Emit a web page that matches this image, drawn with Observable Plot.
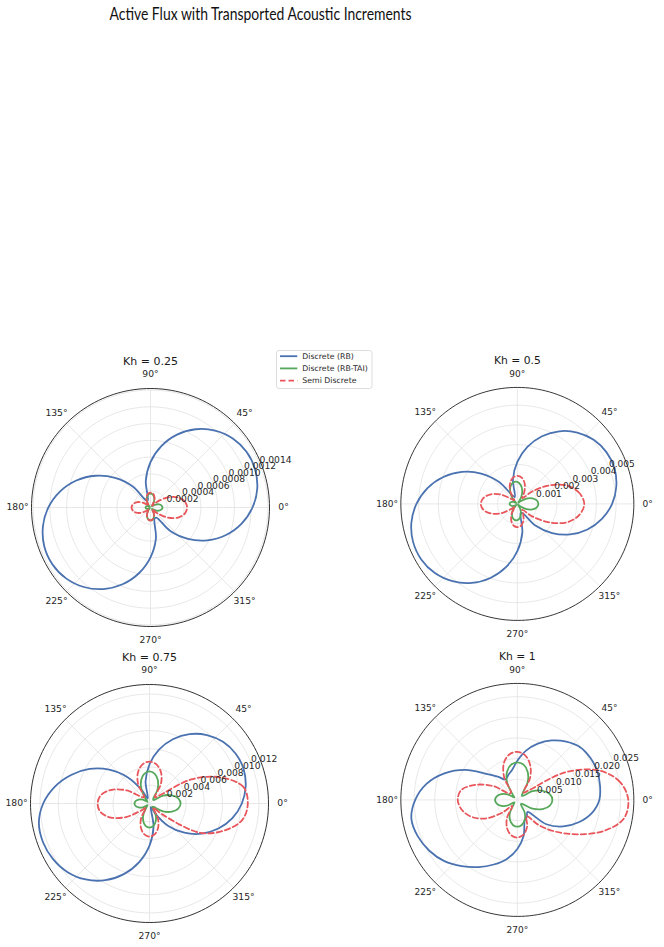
<!DOCTYPE html>
<html>
<head>
<meta charset="utf-8">
<script src="https://cdn.jsdelivr.net/npm/d3@7"></script>
<script src="https://cdn.jsdelivr.net/npm/@observablehq/plot@0.6"></script>
<style>
  html, body { margin: 0; padding: 0; background: #fff; }
  #fig { position: relative; width: 664px; height: 947px; overflow: hidden; background: #fff; }
  .panel { position: absolute; }
  .panel svg { overflow: visible; }
</style>
</head>
<body>
<div id="fig"></div>
<script>
// Polar angle (degrees) shared by every series
const angles = [0,10,20,30,40,50,60,70,80,90,100,110,120,130,140,150,160,170,180,190,200,210,220,230,240,250,260,270,280,290,300,310,320,330,340,350];

const seriesNames = ["Discrete (RB)", "Discrete (RB-TAI)", "Semi Discrete"];
const khLabels = ["0.25", "0.5", "0.75", "1"];

// Kh = 0.25
const rb_025 = [0.001216,0.001292,0.001327,0.001324,0.001280,0.001197,0.001077,0.000925,0.000744,0.000542,0.000322,0.000093,0.000095,0.000328,0.000551,0.000757,0.000941,0.001096,0.001218,0.001302,0.001348,0.001351,0.001314,0.001237,0.001123,0.000974,0.000796,0.000594,0.000373,0.000141,0.000139,0.000367,0.000583,0.000782,0.000958,0.001103];
const tai_025 = [0.000143,0.000134,0.000109,0.0000713,0.000025,0.0000285,0.0000832,0.000127,0.000157,0.000166,0.000157,0.000127,0.0000832,0.0000285,0.0000107,0.0000297,0.0000452,0.0000559,0.0000594,0.0000559,0.0000452,0.0000297,0.0000107,0.0000273,0.0000772,0.000119,0.000145,0.000154,0.000145,0.000119,0.0000772,0.0000273,0.000025,0.0000713,0.000109,0.000134];
const semi_025 = [0.000436,0.000415,0.000349,0.000240,0.000109,0.0000309,0.0000891,0.000137,0.000168,0.000178,0.000168,0.000137,0.0000891,0.0000309,0.0000564,0.000125,0.000181,0.000214,0.000226,0.000214,0.000181,0.000125,0.0000564,0.0000273,0.0000772,0.000119,0.000145,0.000154,0.000145,0.000119,0.0000772,0.0000273,0.000109,0.000240,0.000349,0.000415];
const ticks_025 = [0.0002,0.0004,0.0006,0.0008,0.0010,0.0012,0.0014];
const tickLabels_025 = ["0.0002","0.0004","0.0006","0.0008","0.0010","0.0012","0.0014"];

// Kh = 0.5
const rb_05 = [0.00480,0.00509,0.00524,0.00522,0.00505,0.00472,0.00425,0.00365,0.00293,0.00213,0.00127,0.00037,0.00049,0.00146,0.00239,0.00324,0.00399,0.00462,0.00511,0.00545,0.00562,0.00562,0.00545,0.00511,0.00462,0.00399,0.00324,0.00239,0.00146,0.00049,0.00055,0.00145,0.00230,0.00309,0.00378,0.00435];
const tai_05 = [0.001065,0.001001,0.000815,0.000535,0.000187,0.0000736,0.000388,0.000726,0.000977,0.001114,0.001114,0.000977,0.000726,0.000388,0.0000687,0.000196,0.000299,0.000368,0.000393,0.000368,0.000299,0.000196,0.0000687,0.000285,0.000535,0.000721,0.000820,0.000820,0.000721,0.000535,0.000285,0.0000491,0.000187,0.000535,0.000815,0.001001];
const semi_05 = [0.00339,0.00319,0.00270,0.00187,0.00098,0.00039,0.00071,0.00109,0.00134,0.00142,0.00134,0.00109,0.00071,0.00025,0.00039,0.00093,0.00142,0.00174,0.00185,0.00174,0.00142,0.00093,0.00039,0.00021,0.00059,0.00090,0.00111,0.00118,0.00111,0.00090,0.00059,0.00039,0.00098,0.00187,0.00270,0.00319];
const ticks_05 = [0.001,0.002,0.003,0.004,0.005];
const tickLabels_05 = ["0.001","0.002","0.003","0.004","0.005"];

// Kh = 0.75
const rb_075 = [0.01013,0.01071,0.01099,0.01092,0.01052,0.00980,0.00879,0.00750,0.00600,0.00430,0.00248,0.00057,0.00172,0.00381,0.00579,0.00759,0.00915,0.01056,0.01166,0.01232,0.01243,0.01221,0.01172,0.01088,0.00971,0.00824,0.00652,0.00462,0.00256,0.00043,0.00134,0.00321,0.00499,0.00662,0.00804,0.00923];
const tai_075 = [0.00341,0.00320,0.00261,0.00171,0.00059,0.00062,0.00176,0.00270,0.00331,0.00352,0.00331,0.00270,0.00176,0.00062,0.00029,0.00083,0.00127,0.00155,0.00165,0.00155,0.00127,0.00083,0.00029,0.00046,0.00132,0.00202,0.00249,0.00264,0.00249,0.00202,0.00132,0.00046,0.00059,0.00171,0.00261,0.00320];
const semi_075 = [0.01078,0.01045,0.00836,0.00528,0.00132,0.00091,0.00252,0.00367,0.00436,0.00459,0.00436,0.00367,0.00252,0.00091,0.00110,0.00286,0.00440,0.00539,0.00569,0.00545,0.00451,0.00297,0.00121,0.00063,0.00182,0.00278,0.00341,0.00363,0.00341,0.00278,0.00182,0.00063,0.00198,0.00644,0.00869,0.01034];
const ticks_075 = [0.002,0.004,0.006,0.008,0.010,0.012];
const tickLabels_075 = ["0.002","0.004","0.006","0.008","0.010","0.012"];

// Kh = 1
const rb_1 = [0.01986,0.02033,0.02057,0.02040,0.01986,0.01843,0.01665,0.01451,0.01213,0.00951,0.00737,0.00642,0.00571,0.00737,0.00985,0.01451,0.01879,0.02235,0.02473,0.02606,0.02568,0.02461,0.02307,0.02093,0.01879,0.01665,0.01451,0.01189,0.00880,0.00523,0.00464,0.00380,0.00918,0.01284,0.01581,0.01831];
const tai_1 = [0.00849,0.00799,0.00649,0.00426,0.00147,0.00183,0.00502,0.00728,0.00866,0.00911,0.00866,0.00728,0.00502,0.00183,0.00095,0.00271,0.00414,0.00507,0.00540,0.00507,0.00414,0.00271,0.00095,0.00131,0.00357,0.00518,0.00616,0.00649,0.00616,0.00518,0.00357,0.00131,0.00147,0.00426,0.00649,0.00799];
const semi_1 = [0.02687,0.02521,0.02093,0.01332,0.00357,0.00233,0.00618,0.00904,0.01094,0.01165,0.01118,0.00951,0.00642,0.00238,0.00238,0.00666,0.01070,0.01379,0.01443,0.01367,0.01189,0.00904,0.00476,0.00190,0.00499,0.00728,0.00866,0.00911,0.00856,0.00690,0.00452,0.00785,0.01189,0.01665,0.02212,0.02616];
const ticks_1 = [0.005,0.010,0.015,0.020,0.025];
const tickLabels_1 = ["0.005","0.010","0.015","0.020","0.025"];

const thetaTicks = [0,45,90,135,180,225,270,315];

const COLORS = { rb: "#4a72b0", tai: "#55a85a", semi: "#e8555a" };
const FONT = "DejaVu Sans, sans-serif";
const TEXT = "#262626";

const panels = [
  { kh: khLabels[0], rb: rb_025, tai: tai_025, semi: semi_025, ticks: ticks_025, labels: tickLabels_025, left: -0.5, top: 337 },
  { kh: khLabels[1], rb: rb_05,  tai: tai_05,  semi: semi_05,  ticks: ticks_05,  labels: tickLabels_05,  left: 370.3, top: 337 },
  { kh: khLabels[2], rb: rb_075, tai: tai_075, semi: semi_075, ticks: ticks_075, labels: tickLabels_075, left: -0.7, top: 633.3 },
  { kh: khLabels[3], rb: rb_1,   tai: tai_1,   semi: semi_1,   ticks: ticks_1,   labels: tickLabels_1,   left: 370.3, top: 633.3 }
];

const RAD = Math.PI / 180;
const R_PX = 119; // radius of the polar frame in pixels

function polarPanel(p) {
  // radial limit: 5% headroom above the largest value
  const rmax = 1.05 * d3.max([...p.rb, ...p.tai, ...p.semi]);
  const series = vals => angles.map((a, i) => ({ a, r: vals[i] }));
  const X = d => d.r * Math.cos(d.a * RAD);
  const Y = d => d.r * Math.sin(d.a * RAD);
  const circlePts = rs => rs.flatMap(r => d3.range(0, 360, 2).map(a => ({ a, r })));
  const labelR = rmax * 133 / R_PX;
  const titleR = rmax * 146.5 / R_PX;
  const rl = 22.5 * RAD;

  return Plot.plot({
    width: 300,
    height: 320,
    marginTop: 51,
    marginBottom: 31,
    marginLeft: 31,
    marginRight: 31,
    x: { domain: [-rmax, rmax], axis: null },
    y: { domain: [-rmax, rmax], axis: null },
    style: { background: "transparent", fontFamily: FONT, overflow: "visible" },
    marks: [
      // concentric radial grid
      Plot.line(circlePts(p.ticks), { x: X, y: Y, z: "r", curve: "linear-closed", stroke: "#e1e1e1", strokeWidth: 0.8 }),
      // angular grid
      Plot.link(thetaTicks, {
        x1: () => 0, y1: () => 0,
        x2: a => rmax * Math.cos(a * RAD), y2: a => rmax * Math.sin(a * RAD),
        stroke: "#e1e1e1", strokeWidth: 0.8
      }),
      // curves
      Plot.line(series(p.rb), { x: X, y: Y, curve: "catmull-rom-closed", stroke: COLORS.rb, strokeWidth: 1.8 }),
      Plot.line(series(p.tai), { x: X, y: Y, curve: "catmull-rom-closed", stroke: COLORS.tai, strokeWidth: 1.8 }),
      Plot.line(series(p.semi), { x: X, y: Y, curve: "catmull-rom-closed", stroke: COLORS.semi, strokeWidth: 1.8, strokeDasharray: "5.5,3" }),
      // outer boundary
      Plot.line(circlePts([rmax]), { x: X, y: Y, z: "r", curve: "linear-closed", stroke: "#1a1a1a", strokeWidth: 0.9 }),
      // angle labels
      Plot.text(thetaTicks, {
        x: a => labelR * Math.cos(a * RAD), y: a => labelR * Math.sin(a * RAD),
        text: a => `${a}°`, fontSize: 9.2, fill: TEXT, textAnchor: "middle", lineAnchor: "middle"
      }),
      // radial tick labels along 22.5°
      Plot.text(p.ticks, {
        x: t => t * Math.cos(rl), y: t => t * Math.sin(rl),
        text: (t, i) => p.labels[i], fontSize: 9.2, fill: TEXT,
        textAnchor: "start", lineAnchor: "bottom", dx: 0.5, dy: 0.5
      }),
      // panel title
      Plot.text([`Kh = ${p.kh}`], {
        x: () => 0, y: () => titleR, text: d => d,
        fontSize: 11, fill: "#1a1a1a", textAnchor: "middle", lineAnchor: "middle"
      })
    ]
  });
}

const fig = document.getElementById("fig");

// figure title
const titleSvg = d3.create("svg").attr("width", 664).attr("height", 32)
  .style("position", "absolute").style("left", "0px").style("top", "0px");
titleSvg.append("text")
  .attr("x", 260.5).attr("y", 20)
  .attr("text-anchor", "middle")
  .attr("font-family", "Lato, 'DejaVu Sans', sans-serif")
  .attr("font-size", 18)
  .attr("fill", "#111")
  .attr("textLength", 302)
  .attr("lengthAdjust", "spacingAndGlyphs")
  .text("Active Flux with Transported Acoustic Increments");
fig.appendChild(titleSvg.node());

for (const p of panels) {
  const div = document.createElement("div");
  div.className = "panel";
  div.style.left = p.left + "px";
  div.style.top = p.top + "px";
  div.appendChild(polarPanel(p));
  fig.appendChild(div);
}

// legend
const leg = d3.create("svg").attr("width", 100).attr("height", 42)
  .style("position", "absolute").style("left", "274px").style("top", "348px");
leg.append("rect").attr("x", 2.5).attr("y", 2.5).attr("width", 95.5).attr("height", 38)
  .attr("rx", 2.5).attr("fill", "rgba(255,255,255,0.85)").attr("stroke", "#d4d4d4").attr("stroke-width", 0.8);
const legendItems = [
  { name: seriesNames[0], color: COLORS.rb, dash: null },
  { name: seriesNames[1], color: COLORS.tai, dash: null },
  { name: seriesNames[2], color: COLORS.semi, dash: "5.5,3" }
];
legendItems.forEach((it, i) => {
  const y = 8.2 + i * 12.2;
  leg.append("line").attr("x1", 6).attr("x2", 23.3).attr("y1", y).attr("y2", y)
    .attr("stroke", it.color).attr("stroke-width", 1.8)
    .attr("stroke-dasharray", it.dash);
  leg.append("text").attr("x", 28.3).attr("y", y).attr("dy", "0.35em")
    .attr("font-family", FONT).attr("font-size", 7.8).attr("fill", TEXT)
    .text(it.name);
});
fig.appendChild(leg.node());
</script>
</body>
</html>
